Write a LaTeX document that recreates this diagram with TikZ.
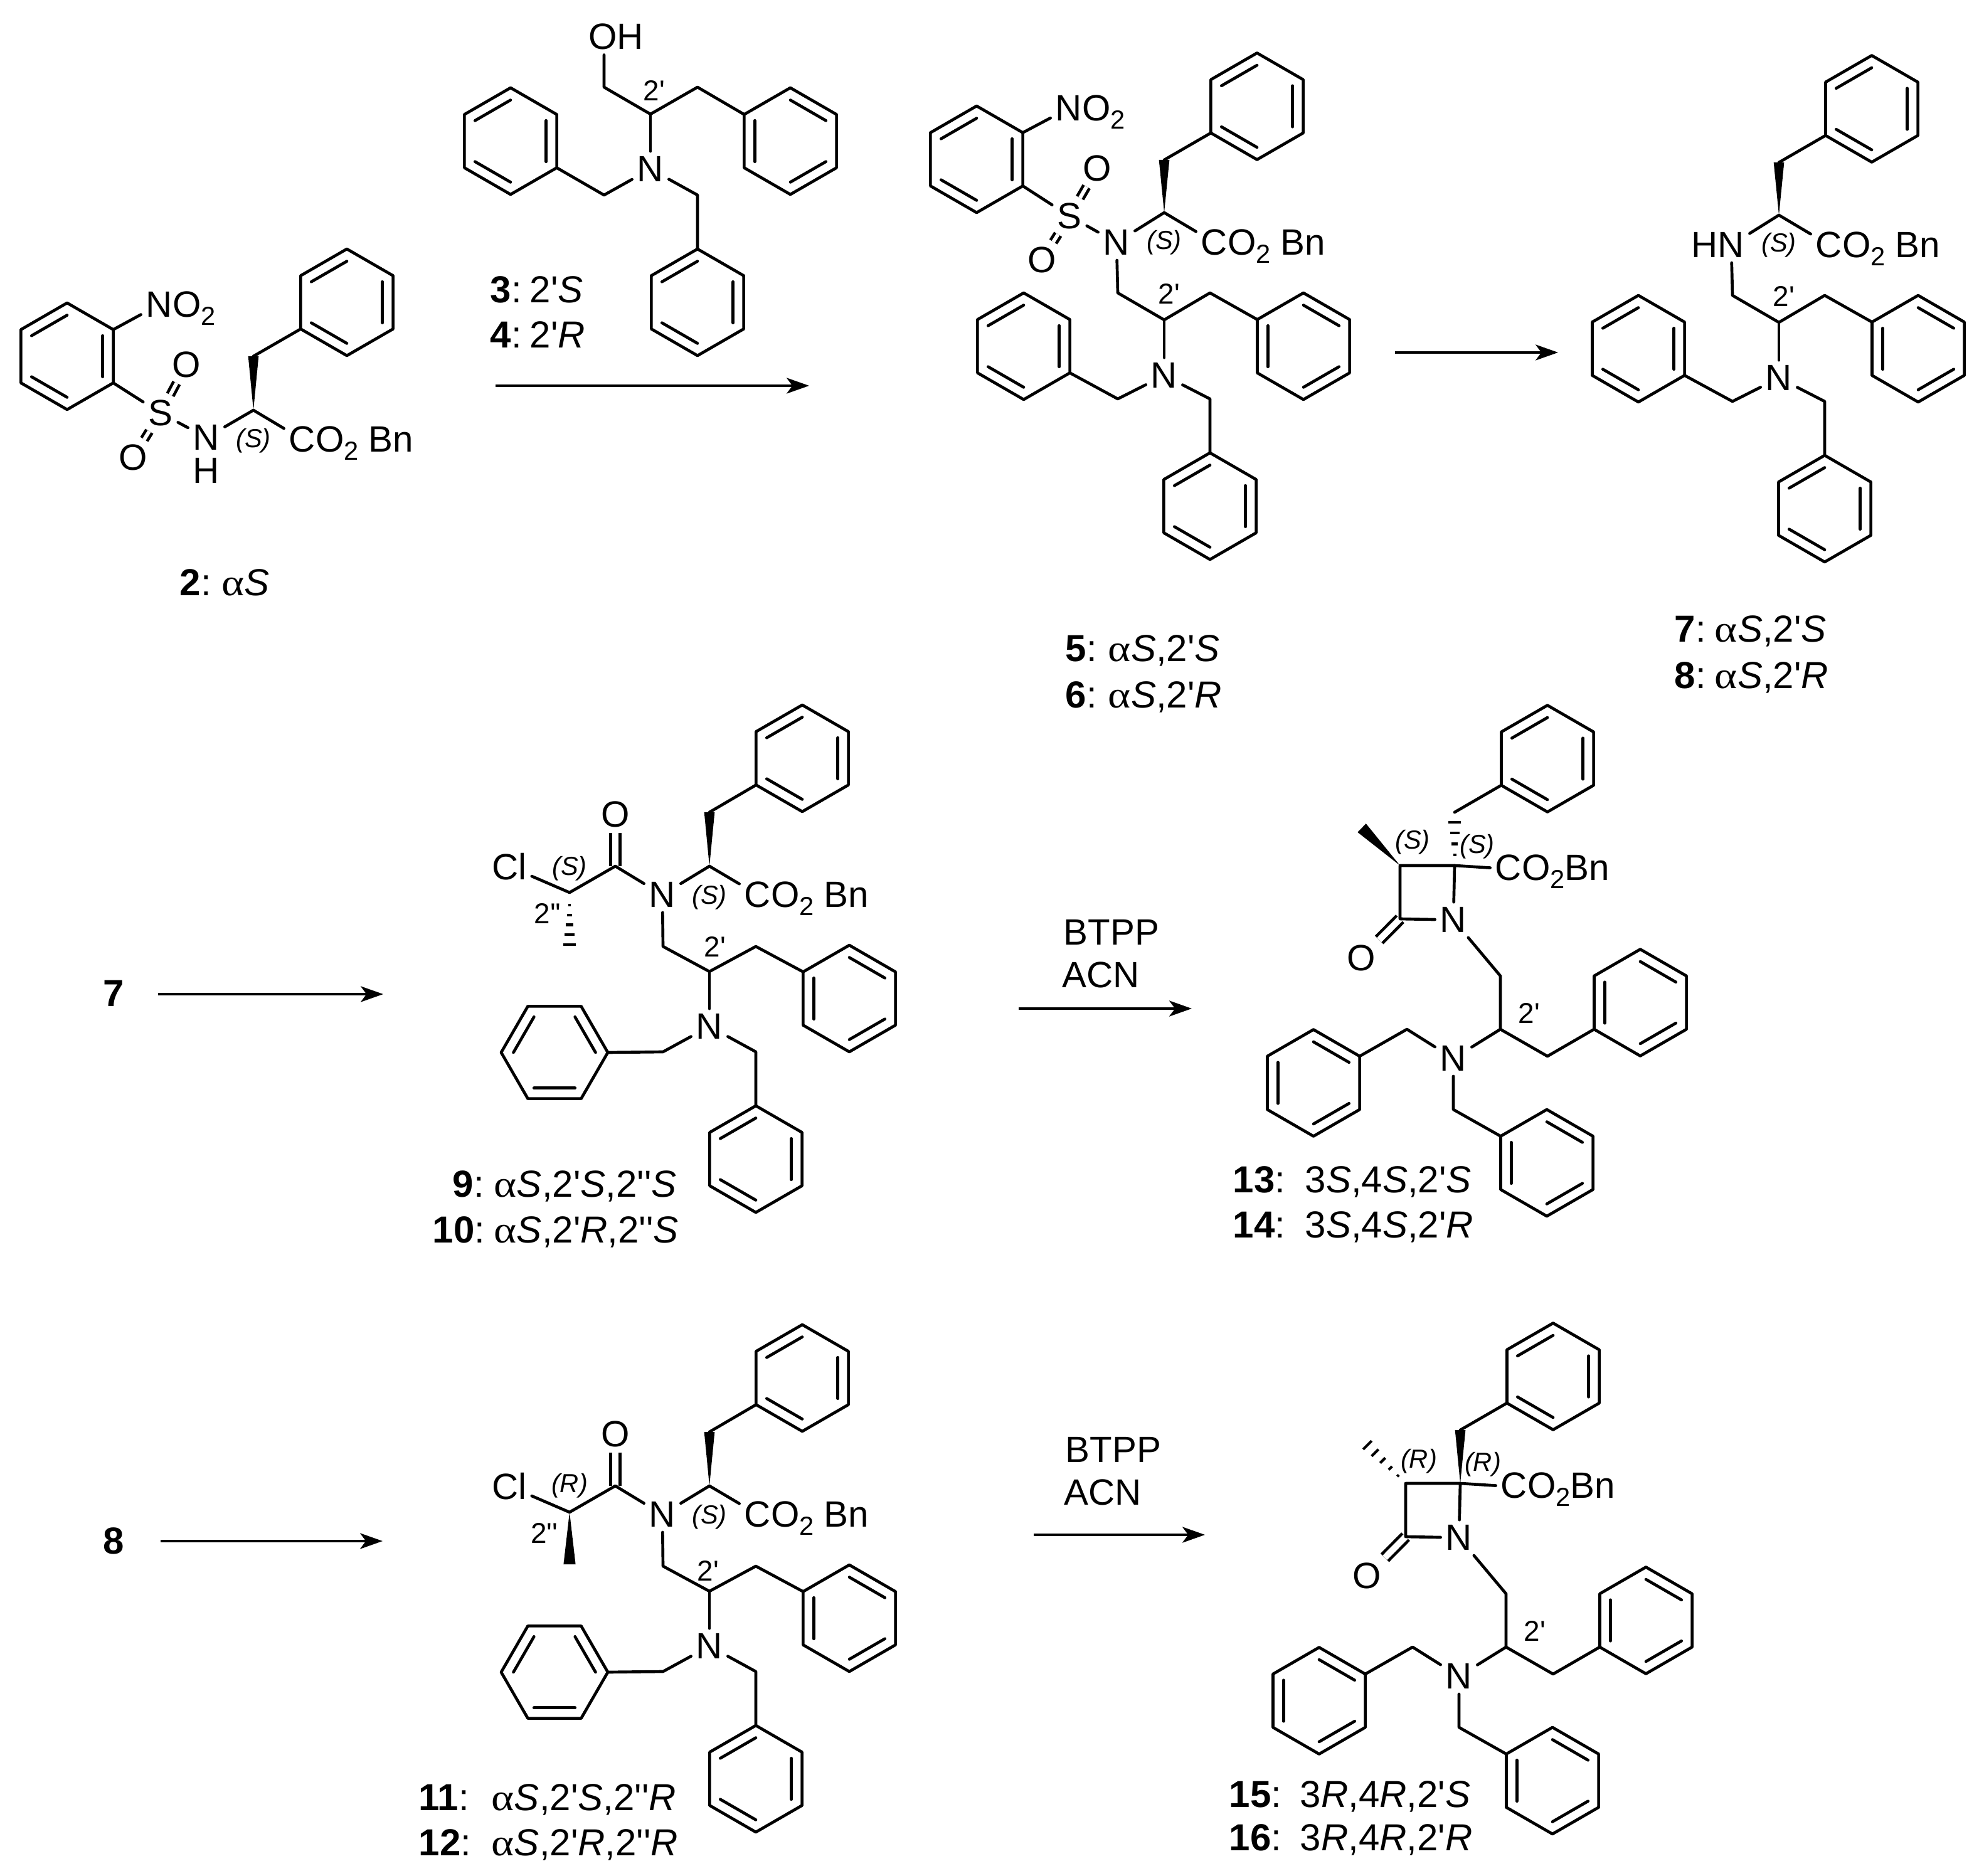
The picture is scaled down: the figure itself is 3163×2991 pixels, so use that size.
\documentclass[tikz,border=0pt]{standalone}
\usepackage{fontspec}
\usetikzlibrary{calc,arrows.meta}
\newfontfamily\lf{Liberation Sans}
\newfontfamily\grk{Liberation Serif}[FakeStretch=1.15]
\newcommand{\al}{{\grk α}}
\newcommand{\subs}[1]{\raisebox{-3.1pt}{\fontsize{10pt}{12pt}\selectfont #1}}
\newcommand{\itS}{\textit{S}}
\newcommand{\itR}{\textit{R}}
\tikzset{
  bond/.style={line width=1.12pt,line cap=round,line join=round},
  dbl/.style={line width=1.12pt,double,double distance=2.4pt},
  dbls/.style={line width=1.12pt,double,double distance=1.4pt},
  atom/.style={inner sep=2pt,outer sep=0pt,yshift=.1pt,font=\lf\fontsize{14pt}{16pt}\selectfont},
  lbl/.style={inner sep=0pt,anchor=base west,font=\lf\fontsize{14.4pt}{16pt}\selectfont},
  small/.style={inner sep=0pt,font=\lf\fontsize{11pt}{13pt}\selectfont},
  stereo/.style={inner sep=0pt,font=\lf\itshape\fontsize{10pt}{12pt}\selectfont},
  arr/.style={line width=1.05pt,-{Stealth[length=8.6pt,width=6pt,inset=2.2pt]}}
}
% name, cx, cy, r, rotation, parity
\newcommand{\benz}[6]{%
  \coordinate (#1) at (#2,#3);
  \foreach \ii in {0,...,5}{\coordinate (#1v\ii) at ($(#1)+({#5-90+60*\ii}:#4)$);}
  \draw[bond] (#1v0)--(#1v1)--(#1v2)--(#1v3)--(#1v4)--(#1v5)--cycle;
  \foreach \ii in {0,2,4}{%
    \pgfmathtruncatemacro\ia{mod(\ii+#6,6)}%
    \pgfmathtruncatemacro\ib{mod(\ii+#6+1,6)}%
    \draw[bond] ($(#1)!.77!(#1v\ia)$) -- ($(#1)!.77!(#1v\ib)$);}
}
\newcommand{\wedgeb}[3]{\fill ($(#2)!#3!90:(#1)$) -- ($(#2)!#3!-90:(#1)$) -- (#1) -- cycle;}
\newcommand{\hashb}[4]{%
  \coordinate (hp) at ($(#2)!#3!90:(#1)$);
  \coordinate (hq) at ($(#2)!#3!-90:(#1)$);
  \foreach \tv in {#4}{\draw[line width=1pt] ($(#1)!\tv!(hp)$) -- ($(#1)!\tv!(hq)$);}
}
\newcommand{\clabel}[6]{%
  \node[lbl] (#1n) at (#2,#4) {\textbf{#1}:};
  \node[lbl] (#1t) at (#3,#4) {#5#6};
}
% shared part of 5 and 7; #2 is the text of the nitrogen
\newcommand{\bodyA}[2]{%
  \benz{#1R1}{2078}{552}{85}{0}{0}
  \benz{#1R2}{1632}{552}{85}{0}{1}
  \benz{#1R3}{1929}{807}{85}{0}{1}
  \benz{#1R4}{2004}{169.5}{85}{0}{1}
  \coordinate (#1a) at (1782,467);
  \coordinate (#1b) at (1856,510);
  \coordinate (#1c) at (1929,467);
  \coordinate (#1d) at (1782,636);
  \coordinate (#1e) at (1929,636);
  \coordinate (#1g) at (1856,339);
  \coordinate (#1h) at (1856,255);
  \node[atom] (#1N) at (1780,387) {#2};
  \node[atom] (#1M) at (1856,599) {N};
  \node[atom] (#1C) at (1936,387) {C\rlap{\smash{O\subs{2} Bn}}};
  \node[stereo] (#1st) at (1856,387) {(S)};
  \node[small] (#1pr) at (1864,469) {2'};
  \draw[bond] (#1N) -- (#1a) -- (#1b) -- (#1c) -- (#1R1v5);
  \draw[bond] (#1b) -- (#1M);
  \draw[bond] (#1M) -- (#1d) -- (#1R2v2);
  \draw[bond] (#1M) -- (#1e) -- (#1R3v0);
  \draw[bond] (#1N) -- (#1g) -- (#1C);
  \draw[bond] (#1h) -- (#1R4v4);
  \wedgeb{#1g}{#1h}{2pt}
}
% shared part of 9 and 11
\newcommand{\bodyB}[1]{%
  \benz{#1R1}{1354}{1592}{85}{0}{0}
  \benz{#1R2}{884}{1678}{85}{30}{0}
  \benz{#1R3}{1205}{1848}{85}{0}{1}
  \benz{#1R4}{1279}{1209}{85}{0}{1}
  \coordinate (#1a) at (1057,1509);
  \coordinate (#1b) at (1131,1549);
  \coordinate (#1c) at (1205,1509);
  \coordinate (#1d) at (1057,1677);
  \coordinate (#1e) at (1205,1677);
  \coordinate (#1g) at (1131,1381);
  \coordinate (#1h) at (1131,1295);
  \coordinate (#1k) at (981,1381);
  \coordinate (#1m) at (908,1423);
  \node[atom] (#1N) at (1056,1427) {N};
  \node[atom] (#1M) at (1131,1637) {N};
  \node[atom] (#1O) at (981,1299) {O};
  \node[atom] (#1Cl) at (812,1382) {Cl};
  \node[atom] (#1C) at (1208,1427) {C\rlap{\smash{O\subs{2} Bn}}};
  \node[stereo] (#1st) at (1131,1431) {(S)};
  \draw[dbl] (#1O) -- (#1k);
  \draw[bond] (#1N) -- (#1k) -- (#1m) -- (#1Cl);
  \draw[bond] (#1N) -- (#1a) -- (#1b) -- (#1c) -- (#1R1v5);
  \draw[bond] (#1b) -- (#1M);
  \draw[bond] (#1M) -- (#1d) -- (#1R2v1);
  \draw[bond] (#1M) -- (#1e) -- (#1R3v0);
  \draw[bond] (#1N) -- (#1g) -- (#1C);
  \draw[bond] (#1h) -- (#1R4v4);
  \wedgeb{#1g}{#1h}{2pt}
}
% shared part of 13 and 15
\newcommand{\bodyC}[1]{%
  \benz{#1R1}{2615}{1598.5}{85}{0}{0}
  \benz{#1R2}{2094}{1726.5}{85}{0}{0}
  \benz{#1R3}{2466}{1854}{85}{0}{0}
  \benz{#1R4}{2467}{1209.5}{85}{0}{1}
  \coordinate (#1c3) at (2232,1380);
  \coordinate (#1c4) at (2319,1380);
  \coordinate (#1c2) at (2232,1465);
  \coordinate (#1h) at (2319,1295);
  \coordinate (#1a) at (2392,1556);
  \coordinate (#1b) at (2392,1641);
  \coordinate (#1c) at (2467,1684);
  \coordinate (#1d) at (2243,1641);
  \coordinate (#1e) at (2317,1769);
  \node[atom] (#1N) at (2317,1467) {N};
  \node[atom] (#1M) at (2317,1688) {N};
  \node[atom] (#1O) at (2170,1528) {O};
  \node[atom] (#1C) at (2405,1384) {C\rlap{\smash{O\subs{2}Bn}}};
  \node[small] (#1pr) at (2438,1615) {2'};
  \draw[dbl] (#1O) -- (#1c2);
  \draw[bond] (#1c2) -- (#1c3) -- (#1c4) -- (#1N) (#1c2) -- (#1N);
  \draw[bond] (#1c4) -- (#1C.west);
  \draw[bond] (#1N) -- (#1a) -- (#1b) -- (#1c) -- (#1R1v4);
  \draw[bond] (#1b) -- (#1M);
  \draw[bond] (#1M) -- (#1d) -- (#1R2v1);
  \draw[bond] (#1M) -- (#1e) -- (#1R3v5);
  \draw[bond] (#1h) -- (#1R4v4);
}
\begin{document}
\begin{tikzpicture}[x=0.24pt,y=-0.24pt]
\useasboundingbox (0,0) rectangle (3163,2991);

% ---------- compound 2
\benz{aA}{107}{568}{85}{0}{1}
\benz{aB}{553}{482}{85}{0}{1}
\coordinate (aCa) at (404,654);
\coordinate (aCh) at (404,568);
\node[atom] (aNO) at (254,486) {N\rlap{\smash{O\subs{2}}}};
\node[atom] (aS) at (256,659) {S};
\node[atom] (aO1) at (297,582) {O};
\node[atom] (aO2) at (212,730) {O};
\node[atom] (aN) at (329,698) {N};
\node[atom] (aH) at (329,751) {H};
\node[atom] (aC) at (482,701) {C\rlap{\smash{O\subs{2} Bn}}};
\node[stereo] (aSt) at (404,703) {(S)};
\draw[bond] (aAv1) -- (aNO);
\draw[bond] (aAv2) -- (aS);
\draw[dbls] (aS) -- (aO1);
\draw[dbls] (aS) -- (aO2);
\draw[bond] (aS) -- (aN) -- (aCa) -- (aC);
\draw[bond] (aCh) -- (aBv4);
\wedgeb{aCa}{aCh}{2pt}
\clabel{2}{286}{353}{950}{\al}{\itS}

% ---------- compound 3
\benz{bA}{1260}{225}{85}{0}{0}
\benz{bB}{814}{225}{85}{0}{1}
\benz{bC}{1112}{482}{85}{0}{1}
\coordinate (bc) at (963,139);
\coordinate (bd) at (1037,182);
\coordinate (be) at (1112,139);
\coordinate (bf) at (963,311);
\coordinate (bg) at (1112,311);
\node[atom] (bOH) at (982,59) {OH};
\node[atom] (bN) at (1037,270) {N};
\node[small] (bpr) at (1043,145) {2'};
\draw[bond] (bc |- bOH.south) -- (bc) -- (bd) -- (be) -- (bAv5);
\draw[bond] (bd) -- (bN);
\draw[bond] (bN) -- (bf) -- (bBv2);
\draw[bond] (bN) -- (bg) -- (bCv0);
\clabel{3}{781}{844}{483}{2'}{\itS}
\clabel{4}{781}{844}{555}{2'}{\itR}

% ---------- arrows, upper row
\coordinate (a1s) at (790,615); \coordinate (a1e) at (1290,615);
\draw[arr] (a1s) -- (a1e);
\coordinate (a2s) at (2224,562); \coordinate (a2e) at (2484,562);
\draw[arr] (a2s) -- (a2e);

% ---------- compound 5
\bodyA{e}{N}
\benz{eA}{1557}{254}{85}{0}{1}
\node[atom] (eNO) at (1704,173) {N\rlap{\smash{O\subs{2}}}};
\node[atom] (eS) at (1705,345) {S};
\node[atom] (eO1) at (1749,269) {O};
\node[atom] (eO2) at (1661,415) {O};
\draw[bond] (eAv1) -- (eNO);
\draw[bond] (eAv2) -- (eS);
\draw[dbls] (eS) -- (eO1);
\draw[dbls] (eS) -- (eO2);
\draw[bond] (eS) -- (eN);
\clabel{5}{1698}{1766}{1055}{\al\itS,2'}{\itS}
\clabel{6}{1698}{1766}{1129}{\al\itS,2'}{\itR}

% ---------- compound 7
\begin{scope}[shift={(980,4)}]
\bodyA{g}{\llap{H}N}
\end{scope}
\clabel{7}{2669}{2733}{1024}{\al\itS,2'}{\itS}
\clabel{8}{2669}{2733}{1098}{\al\itS,2'}{\itR}

% ---------- compound 9
\node[atom,font=\lf\bfseries\fontsize{14.4pt}{16pt}\selectfont] (r7) at (181,1584) {7};
\coordinate (a3s) at (252,1585); \coordinate (a3e) at (611,1585);
\draw[arr] (a3s) -- (a3e);
\bodyB{i}
\node[stereo] (iSb) at (908,1385) {(S)};
\node[small] (ipr) at (1140,1509) {2'};
\node[small] (idp) at (873,1456) {2''};
\coordinate (iMe) at (908,1506);
\hashb{im}{iMe}{2.3pt}{.24,.43,.62,.81,1}
\clabel{9}{721}{787}{1908}{\al\itS,2'\itS,2''}{\itS}
\clabel{10}{689}{787}{1981}{\al\itS,2'\itR,2''}{\itS}

% ---------- compound 11
\node[atom,font=\lf\bfseries\fontsize{14.4pt}{16pt}\selectfont] (r8) at (181,2457) {8};
\coordinate (a4s) at (256,2457); \coordinate (a4e) at (610,2457);
\draw[arr] (a4s) -- (a4e);
\begin{scope}[shift={(0,988)}]
\bodyB{k}
\node[stereo] (kSb) at (908,1381) {(R)};
\node[small] (kpr) at (1129,1516) {2'};
\node[small] (kdp) at (868,1456) {2''};
\coordinate (kMe) at (908,1506);
\wedgeb{km}{kMe}{2.3pt}
\end{scope}
\clabel{11}{667}{783}{2886}{\al\itS,2'\itS,2''}{\itR}
\clabel{12}{667}{783}{2958}{\al\itS,2'\itR,2''}{\itR}

% ---------- compound 13
\node[atom] (tB1) at (1772,1487) {BTPP};
\node[atom] (tA1) at (1755,1555) {ACN};
\coordinate (a5s) at (1624,1608); \coordinate (a5e) at (1900,1608);
\draw[arr] (a5s) -- (a5e);
\bodyC{m}
\node[stereo] (mS1) at (2252,1343) {(S)};
\node[stereo] (mS2) at (2355,1350) {(S)};
\coordinate (mMe) at (2171,1320);
\wedgeb{mc3}{mMe}{2.3pt}
\coordinate (mHs) at (2319,1311);
\hashb{mc4}{mHs}{2.4pt}{.25,.5,.75,1}
\clabel{13}{1965}{2080}{1901}{3\itS,4\itS,2'}{\itS}
\clabel{14}{1965}{2080}{1973}{3\itS,4\itS,2'}{\itR}

% ---------- compound 15
\node[atom] (tB2) at (1775,2312) {BTPP};
\node[atom] (tA2) at (1758,2380) {ACN};
\coordinate (a6s) at (1648,2447); \coordinate (a6e) at (1921,2447);
\draw[arr] (a6s) -- (a6e);
\begin{scope}[shift={(9,985)}]
\bodyC{p}
\node[stereo] (pS1) at (2253,1345) {(R)};
\node[stereo] (pS2) at (2355,1350) {(R)};
\coordinate (pMe) at (2171,1319);
\hashb{pc3}{pMe}{2.3pt}{.2,.4,.6,.8,1}
\wedgeb{pc4}{ph}{2pt}
\end{scope}
\clabel{15}{1959}{2072}{2881}{3\itR,4\itR,2'}{\itS}
\clabel{16}{1959}{2072}{2950}{3\itR,4\itR,2'}{\itR}
\end{tikzpicture}
\end{document}
